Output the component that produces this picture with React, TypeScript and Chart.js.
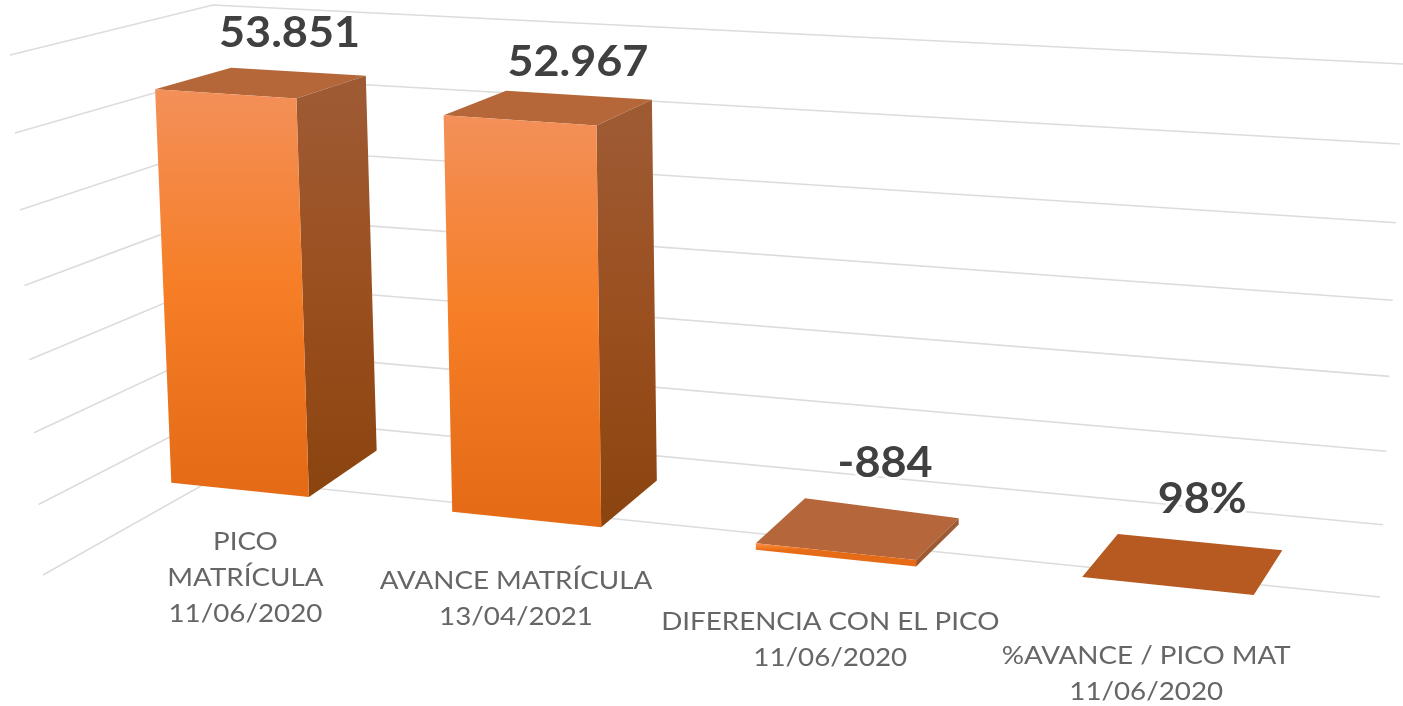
import React, { useEffect, useRef } from "react";
import { Chart, registerables } from "chart.js";

Chart.register(...registerables);

const categories = [
  ["PICO", "MATRÍCULA", "11/06/2020"],
  ["AVANCE MATRÍCULA", "13/04/2021"],
  ["DIFERENCIA CON EL PICO", "11/06/2020"],
  ["%AVANCE / PICO MAT", "11/06/2020"],
];
const values = [53851, 52967, -884, 0.98];
const valueLabels = ["53.851", "52.967", "-884", "98%"];

const axisMin = -10000;
const axisMax = 60000;
const axisStep = 10000;

// label placement relative to the projected bar
const valueLabelOffsets = [[28, -52], [29, -48], [30, -70], [22, -67]];
const categoryLabelOffsets = [[6, 49], [-10, 59], [-5, 67], [-21, 67]];
const topFaceColors = ["#B5673A", "#B5673A", "#B5663A", "#B65A22"];

// the eight corners of the perspective box: [u, v, depth]
const corners = {
  f00: [43, 575], f01: [10, 55], f10: [1335, 722], f11: [1353, 144],
  b00: [215, 478], b01: [213, 5], b10: [1380, 597], b11: [1403, 64],
};
const depthFront = 0.3;
const depthBack = 0.7;

const warp = (u: number) => 0.0105 + 0.838 * u + 0.144 * u * u;
const warpV = (v: number) => v - 0.06 * v * (1 - v);

function corner3(u: number, vRaw: number, d: number): [number, number] {
  const v = warpV(vRaw);
  const mix = (i: number) => {
    const f0 = corners.f00[i] + (corners.f10[i] - corners.f00[i]) * u;
    const f1 = corners.f01[i] + (corners.f11[i] - corners.f01[i]) * u;
    const b0 = corners.b00[i] + (corners.b10[i] - corners.b00[i]) * u;
    const b1 = corners.b01[i] + (corners.b11[i] - corners.b01[i]) * u;
    const f = f0 + (f1 - f0) * v;
    const b = b0 + (b1 - b0) * v;
    return f + (b - f) * d;
  };
  return [mix(0), mix(1)];
}

// bars sit slightly off the plain box: fitted correction of the depth edges
function barPoint(u: number, v: number, d: number): [number, number] {
  const p = corner3(u, v, d);
  const t = (d - depthFront) / (depthBack - depthFront);
  const fade = Math.max(0, 1 - Math.pow(u / 0.65, 3));
  return [p[0] + t * (-1 + 8.5 * (1 - v)), p[1] - 3 + t * (2 - 12 * (1 - v) * fade)];
}

function poly(ctx: CanvasRenderingContext2D, pts: [number, number][], fill: any) {
  ctx.beginPath();
  pts.forEach((p, i) => (i ? ctx.lineTo(p[0], p[1]) : ctx.moveTo(p[0], p[1])));
  ctx.closePath();
  ctx.fillStyle = fill;
  ctx.fill();
}

function stretchedText(
  ctx: CanvasRenderingContext2D,
  text: string,
  x: number,
  y: number,
  sx: number,
  halo: boolean,
) {
  ctx.save();
  ctx.translate(x, y);
  ctx.scale(sx, 1);
  if (halo) ctx.strokeText(text, 0, 0);
  ctx.fillText(text, 0, 0);
  ctx.restore();
}

const box3d = {
  id: "box3d",
  beforeDatasetsDraw(chart: any) {
    const { ctx, scales } = chart;
    const a = chart.chartArea;
    ctx.save();
    ctx.strokeStyle = "#DCDCDC";
    ctx.lineWidth = 1.6;
    scales.y.ticks.forEach((t: any) => {
      const v = (a.bottom - scales.y.getPixelForValue(t.value)) / (a.bottom - a.top);
      const p0 = corner3(0, v, 0);
      const p1 = corner3(0, v, 1);
      const p2 = corner3(1, v, 1);
      ctx.beginPath();
      ctx.moveTo(p0[0], p0[1]);
      ctx.lineTo(p1[0], p1[1]);
      ctx.lineTo(p2[0], p2[1]);
      ctx.stroke();
    });
    ctx.restore();
  },
  beforeDatasetDraw(chart: any, args: any) {
    const { ctx } = chart;
    const a = chart.chartArea;
    const w = a.right - a.left;
    const h = a.bottom - a.top;
    const meta = chart.getDatasetMeta(args.index);
    ctx.save();
    meta.data.forEach((el: any, i: number) => {
      const u0 = warp((el.x - el.width / 2 - a.left) / w);
      const u1 = warp((el.x + el.width / 2 - a.left) / w);
      const vA = (a.bottom - el.y) / h;
      const vB = (a.bottom - el.base) / h;
      const vt = Math.max(vA, vB);
      const vb = Math.min(vA, vB);
      const P = barPoint;

      poly(ctx, [P(u0, vt, depthFront), P(u1, vt, depthFront), P(u1, vt, depthBack), P(u0, vt, depthBack)], topFaceColors[i]);

      const sTop = P(u1, vt, depthFront);
      const sBot = P(u1, vb, depthFront);
      const sg = ctx.createLinearGradient(0, sTop[1], 0, sBot[1] + 1);
      sg.addColorStop(0, "#9E5A33");
      sg.addColorStop(0.5, "#9A4F1E");
      sg.addColorStop(1, "#8A440F");
      poly(ctx, [sTop, P(u1, vt, depthBack), P(u1, vb, depthBack), sBot], sg);

      const fTop = P(u0, vt, depthFront);
      const fBot = P(u0, vb, depthFront);
      const fg = ctx.createLinearGradient(0, fTop[1], 0, fBot[1] + 1);
      fg.addColorStop(0, "#F39059");
      fg.addColorStop(0.5, "#F67E26");
      fg.addColorStop(1, "#E56B17");
      poly(ctx, [fTop, P(u1, vt, depthFront), P(u1, vb, depthFront), fBot], fg);
    });
    ctx.restore();
    return false;
  },
  afterDatasetsDraw(chart: any) {
    const { ctx } = chart;
    const a = chart.chartArea;
    const w = a.right - a.left;
    const h = a.bottom - a.top;
    const meta = chart.getDatasetMeta(0);
    const zeroV = (a.bottom - chart.scales.y.getPixelForValue(0)) / h;
    ctx.save();
    ctx.textAlign = "center";
    ctx.textBaseline = "middle";
    meta.data.forEach((el: any, i: number) => {
      const u = warp((el.x - a.left) / w);
      const vt = Math.max((a.bottom - el.y) / h, (a.bottom - el.base) / h);
      const top = corner3(u, vt, 0.5);
      ctx.font = "bold 42px Lato";
      ctx.strokeStyle = "#FFFFFF";
      ctx.lineWidth = 6;
      ctx.lineJoin = "round";
      ctx.fillStyle = "#404040";
      stretchedText(ctx, valueLabels[i], top[0] + valueLabelOffsets[i][0], top[1] + valueLabelOffsets[i][1], 1.07, true);

      const base = corner3(u, zeroV, depthFront);
      ctx.font = "25px Lato";
      ctx.fillStyle = "#666666";
      const lines = chart.data.labels[i] as string[];
      lines.forEach((line: string, j: number) => {
        stretchedText(ctx, line, base[0] + categoryLabelOffsets[i][0], base[1] + categoryLabelOffsets[i][1] + j * 36, 1.11, false);
      });
    });
    ctx.restore();
  },
};

export default function App() {
  const ref = useRef<HTMLCanvasElement>(null);
  useEffect(() => {
    document.body.style.margin = "0";
    document.body.style.background = "#FFFFFF";
    const chart = new Chart(ref.current as HTMLCanvasElement, {
      type: "bar",
      data: {
        labels: categories as any,
        datasets: [
          {
            data: values,
            backgroundColor: "#F67E26",
            barPercentage: 0.5,
            categoryPercentage: 1,
          },
        ],
      },
      options: {
        animation: false,
        responsive: false,
        maintainAspectRatio: false,
        layout: { padding: 0 },
        plugins: { legend: { display: false }, tooltip: { enabled: false } },
        scales: {
          x: { display: false },
          y: { display: false, min: axisMin, max: axisMax, ticks: { stepSize: axisStep } },
        },
      },
      plugins: [box3d as any],
    });
    return () => chart.destroy();
  }, []);
  return <canvas ref={ref} width={1403} height={706} style={{ display: "block", filter: "blur(0.5px)" }} />;
}
